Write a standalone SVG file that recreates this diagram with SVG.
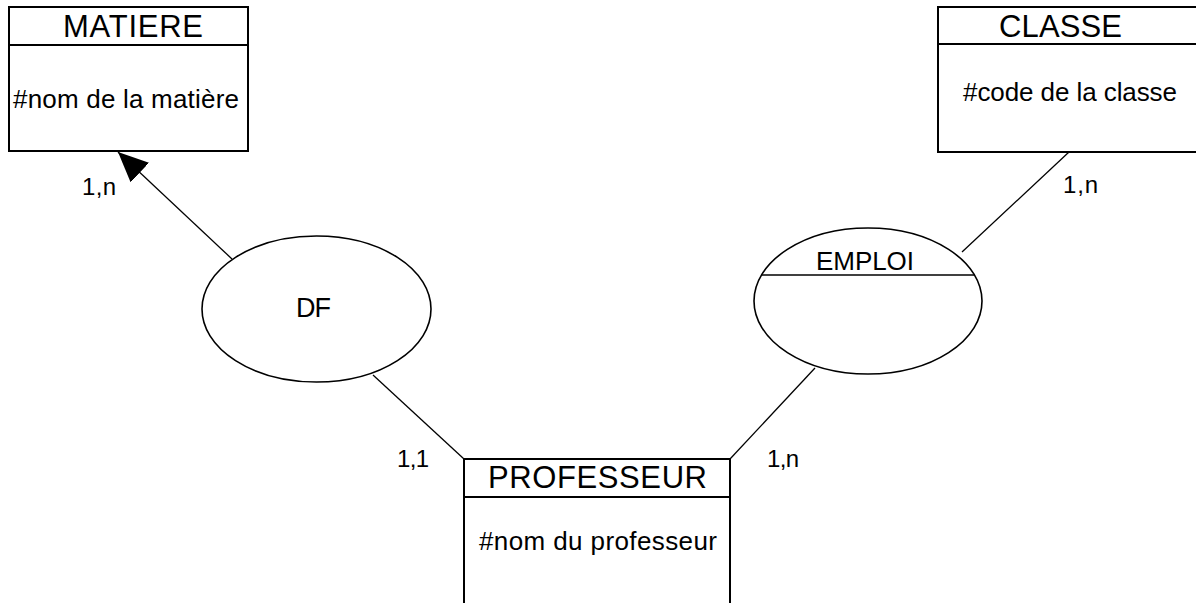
<svg xmlns="http://www.w3.org/2000/svg" width="1196" height="603" viewBox="0 0 1196 603">
  <style>
    .box { fill: #ffffff; stroke: #000000; stroke-width: 2; }
    .sep { stroke: #000000; stroke-width: 2; }
    .ell { fill: #ffffff; stroke: #000000; stroke-width: 1.6; }
    .link { stroke: #000000; stroke-width: 1.3; fill: none; }
    text { font-family: "Liberation Sans", Arial, sans-serif; fill: #000000; }
    .title { font-size: 31px; }
    .attr { font-size: 26px; }
    .card { font-size: 24px; }
    .rel { font-size: 27px; }
  </style>
  <defs>
    <marker id="arrow" markerUnits="userSpaceOnUse" markerWidth="30" markerHeight="27" viewBox="0 -13.5 30 27" refX="30" refY="0" orient="auto">
      <path d="M0,-13.5 L30,0 L0,13.5 Z" fill="#000000"/>
    </marker>
  </defs>
  <rect width="1196" height="603" fill="#ffffff"/>

  <g id="connectors">
    <line class="link" x1="232" y1="259" x2="118" y2="152" marker-end="url(#arrow)"/>
    <line class="link" x1="373" y1="375" x2="464" y2="459"/>
    <line class="link" x1="962" y1="252" x2="1069" y2="152"/>
    <line class="link" x1="815" y1="368" x2="730" y2="459"/>
    <text class="card" x="82" y="195" textLength="34">1,n</text>
    <text class="card" x="1063" y="193" textLength="35">1,n</text>
    <text class="card" x="397" y="467" textLength="32">1,1</text>
    <text class="card" x="767" y="467" textLength="32">1,n</text>
  </g>

  <g id="matiere">
    <rect class="box" x="9" y="7" width="239" height="144"/>
    <line class="sep" x1="9" y1="45" x2="248" y2="45"/>
    <text class="title" x="63" y="37" textLength="140">MATIERE</text>
    <text class="attr" x="13" y="108" textLength="226">#nom de la matière</text>
  </g>

  <g id="classe">
    <rect class="box" x="938" y="7" width="262" height="145"/>
    <line class="sep" x1="938" y1="44" x2="1200" y2="44"/>
    <text class="title" x="999" y="37" textLength="123">CLASSE</text>
    <text class="attr" x="963" y="101" textLength="214">#code de la classe</text>
  </g>

  <g id="df">
    <ellipse class="ell" cx="316.5" cy="309" rx="114.5" ry="73"/>
    <text class="rel" x="296" y="317" textLength="35">DF</text>
  </g>

  <g id="emploi">
    <ellipse class="ell" cx="868" cy="301" rx="114" ry="73"/>
    <line class="sep" x1="762" y1="275" x2="975" y2="275" style="stroke-width:1.6"/>
    <text class="attr" x="816" y="270" textLength="98">EMPLOI</text>
  </g>

  <g id="professeur">
    <rect class="box" x="464" y="459" width="266" height="150"/>
    <line class="sep" x1="464" y1="497" x2="730" y2="497"/>
    <text class="title" x="488" y="488" textLength="219">PROFESSEUR</text>
    <text class="attr" x="479" y="550" textLength="238">#nom du professeur</text>
  </g>
</svg>
